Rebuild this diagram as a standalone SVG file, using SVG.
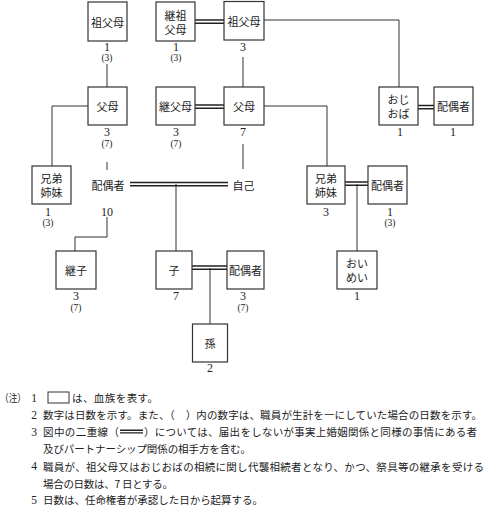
<svg xmlns="http://www.w3.org/2000/svg" width="485" height="506" viewBox="0 0 485 506">
<style>
.box{fill:#fff;stroke:#333;stroke-width:1.2}
.ln{fill:none;stroke:#333;stroke-width:1}
.dl{fill:none;stroke:#222;stroke-width:1.5}
.lb{font-family:"Noto Sans CJK JP","Noto Sans CJK SC",sans-serif;font-size:11px;text-anchor:middle;dominant-baseline:central;fill:#222}
.num{font-family:"Liberation Serif",serif;font-size:12px;text-anchor:middle;fill:#222}
.par{font-family:"Liberation Serif",serif;font-size:9.5px;text-anchor:middle;fill:#222}
.nt{font-family:"Noto Sans CJK JP","Noto Sans CJK SC",sans-serif;font-size:10.5px;fill:#222;dominant-baseline:central}
.nn{font-family:"Liberation Serif",serif;font-size:11.5px;fill:#222;text-anchor:middle;dominant-baseline:central}
</style>
<rect width="485" height="506" fill="#fff"/>

<g id="connectors">
  <path class="ln" d="M107 64V87"/>
  <path class="ln" d="M88 106H52V166"/>
  <path class="ln" d="M107 162V170"/>
  <path class="ln" d="M107 217V237H75V251"/>
  <path class="ln" d="M243 57V87"/>
  <path class="ln" d="M264 20H399V87"/>
  <path class="ln" d="M243 144V169"/>
  <path class="ln" d="M264 106H327V166"/>
  <path class="ln" d="M176 184V251"/>
  <path class="ln" d="M357 184V251"/>
  <path class="ln" d="M210 268V324"/>
  <g id="double-lines">
    <path class="dl" d="M195 20H224M195 23.2H224"/>
    <path class="dl" d="M195 105H224M195 108.2H224"/>
    <path class="dl" d="M418 105.5H434M418 108.7H434"/>
    <path class="dl" d="M130 182.5H228M130 185.7H228"/>
    <path class="dl" d="M345 182H368M345 185.2H368"/>
    <path class="dl" d="M192 266H227M192 269.2H227"/>
  </g>
</g>

<g id="n-sofubo-l">
  <rect class="box" x="88" y="2" width="39" height="39"/>
  <text class="lb" x="107.5" y="21.5">祖父母</text>
  <text class="num" x="107" y="51">1</text>
  <text class="par" x="107" y="61">(3)</text>
</g>
<g id="n-keisofubo">
  <rect class="box" x="156" y="2" width="39" height="39"/>
  <text class="lb" x="175.5" y="14.5">継祖<tspan x="175.5" dy="14.5">父母</tspan></text>
  <text class="num" x="176" y="51">1</text>
  <text class="par" x="176" y="61">(3)</text>
</g>
<g id="n-sofubo-r">
  <rect class="box" x="224" y="1.5" width="40" height="38.5"/>
  <text class="lb" x="244" y="21">祖父母</text>
  <text class="num" x="243" y="51">3</text>
</g>
<g id="n-fubo-l">
  <rect class="box" x="88" y="87" width="39" height="38"/>
  <text class="lb" x="107.5" y="106">父母</text>
  <text class="num" x="107" y="136">3</text>
  <text class="par" x="107" y="146.5">(7)</text>
</g>
<g id="n-keifubo">
  <rect class="box" x="156" y="87" width="39" height="38"/>
  <text class="lb" x="175.5" y="106">継父母</text>
  <text class="num" x="176" y="136">3</text>
  <text class="par" x="176" y="146.5">(7)</text>
</g>
<g id="n-fubo-c">
  <rect class="box" x="224" y="87" width="40" height="38"/>
  <text class="lb" x="244" y="106">父母</text>
  <text class="num" x="243" y="136">7</text>
</g>
<g id="n-ojioba">
  <rect class="box" x="379" y="87" width="39" height="38"/>
  <text class="lb" x="398.5" y="98.5">おじ<tspan x="398.5" dy="14.5">おば</tspan></text>
  <text class="num" x="400" y="136">1</text>
</g>
<g id="n-ojioba-spouse">
  <rect class="box" x="434" y="87" width="39" height="38"/>
  <text class="lb" x="453.5" y="106">配偶者</text>
  <text class="num" x="453" y="136">1</text>
</g>
<g id="n-kyodai-l">
  <rect class="box" x="32" y="166" width="39" height="38"/>
  <text class="lb" x="51.5" y="177.5">兄弟<tspan x="51.5" dy="14.5">姉妹</tspan></text>
  <text class="num" x="48" y="216">1</text>
  <text class="par" x="48" y="225.5">(3)</text>
</g>
<g id="n-spouse-self">
  <text class="lb" x="108" y="185">配偶者</text>
  <text class="num" x="107" y="216">10</text>
</g>
<g id="n-self">
  <text class="lb" x="243.5" y="185">自己</text>
</g>
<g id="n-kyodai-r">
  <rect class="box" x="307" y="166" width="38" height="38"/>
  <text class="lb" x="326" y="177.5">兄弟<tspan x="326" dy="14.5">姉妹</tspan></text>
  <text class="num" x="326" y="216">3</text>
</g>
<g id="n-kyodai-spouse">
  <rect class="box" x="368" y="166" width="39" height="38"/>
  <text class="lb" x="387.5" y="185">配偶者</text>
  <text class="num" x="390" y="216">1</text>
  <text class="par" x="390" y="225.5">(3)</text>
</g>
<g id="n-keishi">
  <rect class="box" x="56" y="251" width="40" height="38"/>
  <text class="lb" x="76" y="270">継子</text>
  <text class="num" x="76" y="300">3</text>
  <text class="par" x="76" y="310.5">(7)</text>
</g>
<g id="n-ko">
  <rect class="box" x="156" y="251" width="36" height="38"/>
  <text class="lb" x="174" y="270">子</text>
  <text class="num" x="176" y="300">7</text>
</g>
<g id="n-ko-spouse">
  <rect class="box" x="227" y="251" width="37" height="38"/>
  <text class="lb" x="245.5" y="270">配偶者</text>
  <text class="num" x="243" y="300">3</text>
  <text class="par" x="243" y="310.5">(7)</text>
</g>
<g id="n-oimei">
  <rect class="box" x="337" y="251" width="40" height="38"/>
  <text class="lb" x="357" y="262.5">おい<tspan x="357" dy="14.5">めい</tspan></text>
  <text class="num" x="357" y="300">1</text>
</g>
<g id="n-mago">
  <rect class="box" x="192.5" y="324" width="35" height="38"/>
  <text class="lb" x="210" y="343">孫</text>
  <text class="num" x="210" y="372">2</text>
</g>

<g id="notes">
  <text class="nt" x="0" y="397.5" textLength="26" lengthAdjust="spacingAndGlyphs">（注）</text>
  <text class="nn" x="34" y="397.5">1</text>
  <rect x="48" y="392" width="21" height="11" fill="#fff" stroke="#333" stroke-width="1"/>
  <text class="nt" x="72" y="397.5" textLength="86">は、血族を表す。</text>
  <text class="nn" x="34" y="414.5">2</text>
  <text class="nt" x="43" y="414.5" textLength="439">数字は日数を示す。また、（　）内の数字は、職員が生計を一にしていた場合の日数を示す。</text>
  <text class="nn" x="34" y="431.5">3</text>
  <text class="nt" x="43" y="431.5" textLength="76">図中の二重線（</text>
  <path d="M120 430.3H143M120 432.9H143" stroke="#222" stroke-width="1.4" fill="none"/>
  <text class="nt" x="144" y="431.5" textLength="333">）については、届出をしないが事実上婚姻関係と同様の事情にある者</text>
  <text class="nt" x="43" y="448.5" textLength="208">及びパートナーシップ関係の相手方を含む。</text>
  <text class="nn" x="34" y="466">4</text>
  <text class="nt" x="43" y="466" textLength="441">職員が、祖父母又はおじおばの相続に関し代襲相続者となり、かつ、祭具等の継承を受ける</text>
  <text class="nt" x="43" y="483" textLength="130">場合の日数は、7 日とする。</text>
  <text class="nn" x="34" y="499.5">5</text>
  <text class="nt" x="43" y="499.5" textLength="220">日数は、任命権者が承認した日から起算する。</text>
</g>
</svg>
